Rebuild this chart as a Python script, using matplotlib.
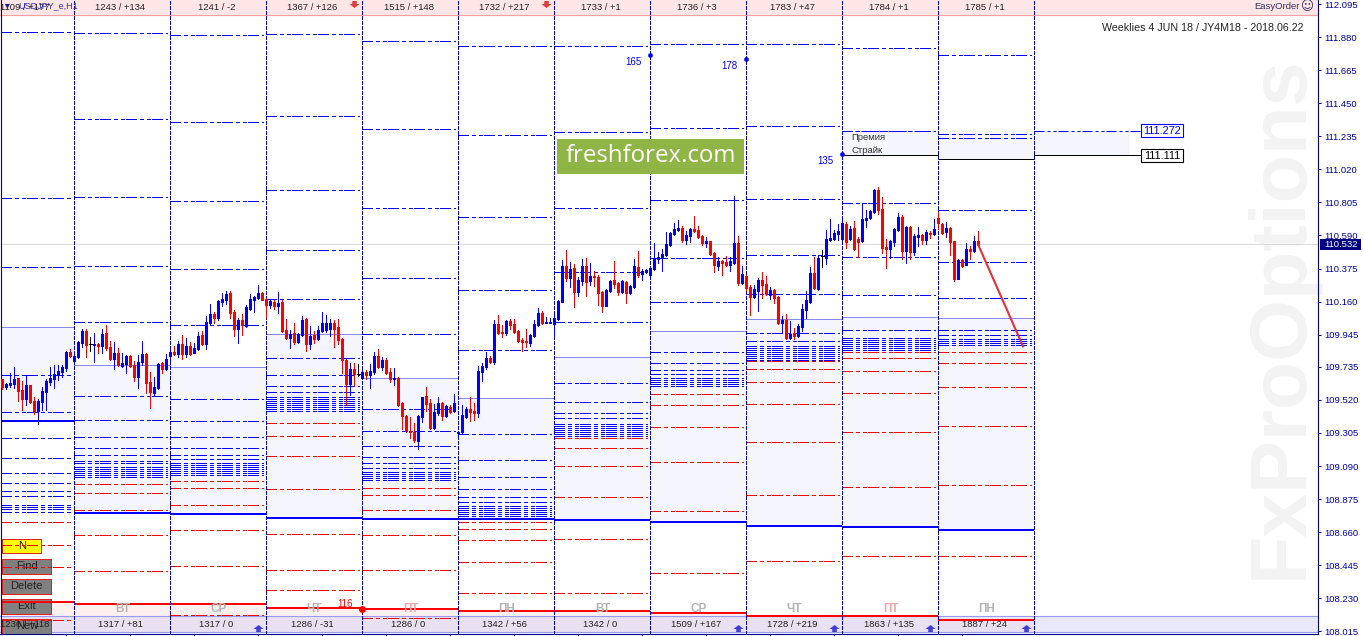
import matplotlib
matplotlib.use("Agg")
import matplotlib.pyplot as plt
from matplotlib.patches import Rectangle

W, H = 1363, 636
plt.rcParams["font.family"] = ["Liberation Sans", "DejaVu Sans"]
plt.rcParams["lines.scale_dashes"] = False

# H1 candles, bar by bar
c_high = [
    109.657, 109.630, 109.696, 109.735, 109.663, 109.644, 109.683, 109.618, 109.540, 109.527,
    109.605, 109.657, 109.735, 109.748, 109.748, 109.748, 109.839, 109.852, 109.813, 109.904,
    109.982, 109.982, 109.930, 109.956, 109.891, 109.982, 110.008, 109.904, 109.897, 109.858,
    109.826, 109.813, 109.813, 109.774, 109.813, 109.904, 109.826, 109.702, 109.670, 109.761,
    109.767, 109.819, 109.858, 109.871, 109.904, 109.943, 109.923, 109.897, 109.891, 109.962,
    109.969, 110.066, 110.144, 110.092, 110.170, 110.216, 110.229, 110.229, 110.105, 110.053,
    110.079, 110.138, 110.209, 110.196, 110.268, 110.222, 110.183, 110.177, 110.170, 110.222,
    110.170, 110.047, 109.975, 110.021, 109.956, 110.066, 110.053, 110.001, 109.969, 110.001,
    110.092, 110.073, 110.047, 110.040, 110.047, 109.923, 109.787, 109.761, 109.761, 109.754,
    109.715, 109.715, 109.754, 109.832, 109.852, 109.800, 109.793, 109.728, 109.728, 109.670,
    109.507, 109.423, 109.410, 109.371, 109.423, 109.540, 109.605, 109.527, 109.494, 109.540,
    109.507, 109.488, 109.488, 109.559, 109.319, 109.488, 109.475, 109.540, 109.501, 109.741,
    109.761, 109.832, 109.806, 110.040, 110.073, 110.008, 110.040, 110.047, 110.047, 109.975,
    109.923, 109.982, 109.949, 110.040, 110.118, 110.099, 110.060, 110.053, 110.073, 110.170,
    110.430, 110.495, 110.417, 110.404, 110.320, 110.437, 110.443, 110.411, 110.359, 110.333,
    110.229, 110.242, 110.300, 110.424, 110.287, 110.300, 110.294, 110.268, 110.437, 110.489,
    110.372, 110.372, 110.391, 110.540, 110.482, 110.502, 110.612, 110.612, 110.670, 110.690,
    110.651, 110.619, 110.638, 110.716, 110.651, 110.593, 110.580, 110.554, 110.482, 110.450,
    110.430, 110.456, 110.450, 110.846, 110.586, 110.391, 110.333, 110.268, 110.268, 110.313,
    110.352, 110.326, 110.255, 110.242, 110.196, 110.066, 110.079, 110.034, 109.988, 110.014,
    110.144, 110.229, 110.385, 110.450, 110.463, 110.495, 110.625, 110.697, 110.625, 110.664,
    110.690, 110.677, 110.651, 110.684, 110.580, 110.800, 110.755, 110.755, 110.891, 110.904,
    110.840, 110.567, 110.560, 110.638, 110.736, 110.723, 110.651, 110.651, 110.599, 110.645,
    110.599, 110.625, 110.619, 110.697, 110.742, 110.670, 110.677, 110.645, 110.554, 110.437,
    110.437, 110.540, 110.521, 110.586, 110.619,
]
c_low = [
    109.592, 109.592, 109.605, 109.598, 109.514, 109.455, 109.488, 109.501, 109.429, 109.364,
    109.455, 109.455, 109.618, 109.598, 109.650, 109.670, 109.709, 109.800, 109.767, 109.793,
    109.865, 109.800, 109.839, 109.767, 109.826, 109.826, 109.845, 109.780, 109.722, 109.741,
    109.735, 109.696, 109.735, 109.644, 109.598, 109.748, 109.566, 109.468, 109.546, 109.592,
    109.696, 109.715, 109.774, 109.813, 109.800, 109.787, 109.800, 109.813, 109.826, 109.845,
    109.878, 109.852, 110.008, 110.021, 110.040, 110.131, 110.144, 110.053, 109.936, 109.891,
    109.943, 109.995, 110.105, 110.092, 110.177, 110.170, 110.053, 110.118, 110.112, 110.086,
    109.962, 109.917, 109.858, 109.884, 109.891, 109.936, 109.839, 109.852, 109.891, 109.910,
    109.962, 109.962, 109.936, 109.865, 109.884, 109.696, 109.488, 109.553, 109.611, 109.676,
    109.657, 109.657, 109.598, 109.689, 109.728, 109.715, 109.689, 109.637, 109.618, 109.481,
    109.332, 109.312, 109.273, 109.247, 109.202, 109.377, 109.449, 109.332, 109.332, 109.423,
    109.390, 109.410, 109.436, 109.442, 109.293, 109.306, 109.403, 109.384, 109.390, 109.410,
    109.644, 109.722, 109.761, 109.754, 109.949, 109.930, 109.943, 109.982, 109.956, 109.897,
    109.839, 109.865, 109.871, 109.930, 110.001, 110.014, 110.021, 110.021, 109.923, 110.040,
    110.157, 110.294, 110.255, 110.124, 110.196, 110.268, 110.196, 110.268, 110.261, 110.138,
    110.092, 110.131, 110.222, 110.248, 110.203, 110.216, 110.150, 110.209, 110.248, 110.320,
    110.300, 110.346, 110.326, 110.365, 110.411, 110.359, 110.456, 110.521, 110.593, 110.619,
    110.547, 110.534, 110.547, 110.612, 110.573, 110.528, 110.515, 110.463, 110.352, 110.365,
    110.333, 110.391, 110.359, 110.404, 110.268, 110.274, 110.235, 110.073, 110.183, 110.099,
    110.183, 110.203, 110.177, 110.150, 110.014, 109.962, 109.917, 109.917, 109.917, 109.930,
    109.969, 110.053, 110.150, 110.242, 110.235, 110.385, 110.404, 110.554, 110.560, 110.560,
    110.560, 110.508, 110.560, 110.495, 110.450, 110.547, 110.645, 110.697, 110.736, 110.729,
    110.475, 110.378, 110.443, 110.521, 110.619, 110.437, 110.411, 110.437, 110.463, 110.521,
    110.534, 110.534, 110.573, 110.593, 110.632, 110.599, 110.580, 110.463, 110.294, 110.307,
    110.385, 110.398, 110.437, 110.482, 110.521,
]
c_open = [
    109.657, 109.605, 109.618, 109.624, 109.663, 109.585, 109.527, 109.618, 109.514, 109.449,
    109.507, 109.572, 109.637, 109.657, 109.683, 109.702, 109.728, 109.832, 109.774, 109.800,
    109.891, 109.969, 109.884, 109.878, 109.884, 109.871, 109.956, 109.865, 109.787, 109.826,
    109.741, 109.754, 109.806, 109.748, 109.670, 109.767, 109.819, 109.637, 109.566, 109.598,
    109.761, 109.722, 109.806, 109.832, 109.819, 109.884, 109.819, 109.871, 109.826, 109.852,
    109.943, 109.884, 110.021, 110.079, 110.053, 110.157, 110.170, 110.216, 110.092, 109.982,
    110.040, 110.001, 110.112, 110.170, 110.183, 110.216, 110.177, 110.138, 110.157, 110.131,
    110.157, 109.975, 109.923, 109.956, 109.897, 109.943, 110.047, 109.884, 109.943, 109.917,
    109.969, 109.975, 109.982, 110.021, 109.995, 109.917, 109.780, 109.624, 109.722, 109.689,
    109.663, 109.702, 109.683, 109.702, 109.806, 109.735, 109.780, 109.702, 109.657, 109.663,
    109.501, 109.416, 109.319, 109.312, 109.254, 109.410, 109.546, 109.501, 109.338, 109.436,
    109.501, 109.416, 109.475, 109.449, 109.306, 109.312, 109.410, 109.462, 109.449, 109.436,
    109.702, 109.735, 109.793, 109.767, 110.014, 109.962, 109.956, 110.034, 110.014, 109.969,
    109.910, 109.904, 109.891, 109.936, 110.008, 110.086, 110.021, 110.021, 110.014, 110.047,
    110.157, 110.391, 110.313, 110.378, 110.222, 110.294, 110.391, 110.294, 110.326, 110.320,
    110.222, 110.131, 110.229, 110.300, 110.281, 110.222, 110.287, 110.216, 110.255, 110.385,
    110.339, 110.352, 110.333, 110.372, 110.437, 110.443, 110.463, 110.528, 110.599, 110.625,
    110.638, 110.560, 110.586, 110.632, 110.625, 110.586, 110.540, 110.554, 110.476, 110.391,
    110.424, 110.417, 110.398, 110.411, 110.540, 110.281, 110.326, 110.255, 110.190, 110.229,
    110.300, 110.274, 110.203, 110.235, 110.190, 110.021, 110.040, 109.923, 109.956, 109.936,
    109.995, 110.105, 110.157, 110.346, 110.242, 110.456, 110.443, 110.560, 110.567, 110.599,
    110.567, 110.664, 110.567, 110.638, 110.567, 110.554, 110.690, 110.703, 110.742, 110.885,
    110.762, 110.515, 110.502, 110.547, 110.625, 110.710, 110.489, 110.645, 110.482, 110.580,
    110.593, 110.560, 110.606, 110.599, 110.703, 110.664, 110.612, 110.638, 110.554, 110.307,
    110.430, 110.398, 110.502, 110.489, 110.554,
]
c_close = [
    109.605, 109.624, 109.630, 109.657, 109.579, 109.527, 109.618, 109.507, 109.449, 109.514,
    109.579, 109.644, 109.663, 109.689, 109.709, 109.735, 109.832, 109.806, 109.806, 109.897,
    109.969, 109.878, 109.884, 109.884, 109.871, 109.949, 109.858, 109.787, 109.826, 109.748,
    109.761, 109.806, 109.741, 109.670, 109.767, 109.819, 109.630, 109.572, 109.605, 109.754,
    109.722, 109.787, 109.832, 109.819, 109.884, 109.819, 109.871, 109.819, 109.858, 109.936,
    109.884, 110.027, 110.079, 110.053, 110.164, 110.177, 110.209, 110.086, 109.982, 110.040,
    110.008, 110.124, 110.177, 110.190, 110.216, 110.170, 110.138, 110.164, 110.131, 110.150,
    109.969, 109.923, 109.949, 109.897, 109.949, 110.040, 109.884, 109.936, 109.917, 109.975,
    110.021, 110.021, 110.021, 109.982, 109.910, 109.780, 109.624, 109.722, 109.689, 109.689,
    109.702, 109.683, 109.709, 109.806, 109.735, 109.780, 109.696, 109.657, 109.663, 109.488,
    109.416, 109.319, 109.312, 109.260, 109.416, 109.540, 109.494, 109.338, 109.442, 109.501,
    109.416, 109.481, 109.442, 109.501, 109.312, 109.423, 109.462, 109.442, 109.436, 109.709,
    109.741, 109.793, 109.767, 110.014, 109.956, 109.956, 110.034, 110.008, 109.962, 109.904,
    109.897, 109.897, 109.943, 110.014, 110.086, 110.021, 110.027, 110.027, 110.053, 110.164,
    110.391, 110.313, 110.372, 110.222, 110.300, 110.391, 110.287, 110.326, 110.320, 110.216,
    110.131, 110.235, 110.294, 110.274, 110.222, 110.294, 110.216, 110.261, 110.391, 110.333,
    110.359, 110.365, 110.378, 110.443, 110.450, 110.469, 110.534, 110.606, 110.632, 110.638,
    110.560, 110.593, 110.632, 110.619, 110.580, 110.540, 110.554, 110.469, 110.398, 110.424,
    110.411, 110.398, 110.424, 110.540, 110.281, 110.339, 110.248, 110.190, 110.242, 110.300,
    110.268, 110.209, 110.235, 110.183, 110.021, 110.040, 109.923, 109.949, 109.936, 110.001,
    110.112, 110.170, 110.346, 110.248, 110.443, 110.456, 110.567, 110.573, 110.606, 110.619,
    110.670, 110.547, 110.632, 110.502, 110.547, 110.697, 110.703, 110.749, 110.885, 110.755,
    110.508, 110.502, 110.554, 110.632, 110.710, 110.489, 110.645, 110.482, 110.586, 110.593,
    110.560, 110.612, 110.599, 110.632, 110.670, 110.606, 110.638, 110.547, 110.307, 110.430,
    110.391, 110.502, 110.489, 110.554, 110.528,
]

# day separators, in bars
day_edges = [-0.25, 18, 42, 66, 90, 114, 138, 162, 186, 210, 234, 258]
top_labels = ["1109 / +177", "1243 / +134", "1241 / -2", "1367 / +126", "1515 / +148", "1732 / +217",
              "1733 / +1", "1736 / +3", "1783 / +47", "1784 / +1", "1785 / +1"]
bottom_labels = ["1236 / +118", "1317 / +81", "1317 / 0", "1286 / -31", "1286 / 0", "1342 / +56",
                 "1342 / 0", "1509 / +167", "1728 / +219", "1863 / +135", "1887 / +24"]
weekdays = ["", "ВТ", "СР", "ЧТ", "ПТ", "ПН", "ВТ", "СР", "ЧТ", "ПТ", "ПН"]

# option strike levels per day
blue_levels = [
    [111.912, 110.832, 110.383, 109.680, 109.440, 109.270, 109.140, 109.043, 108.978, 108.926, 108.893,
     108.834, 108.821, 108.808, 108.791],
    [111.905, 111.346, 110.838, 110.390, 110.025, 109.544, 109.388, 109.277, 109.205, 109.160, 109.121,
     109.108, 109.082, 109.069, 109.056, 109.043, 109.030, 109.017],
    [111.892, 111.326, 110.812, 110.370, 110.006, 109.524, 109.381, 109.277, 109.205, 109.160, 109.134,
     109.108, 109.095, 109.082, 109.069, 109.056, 109.043, 109.030],
    [111.899, 111.365, 110.884, 110.494, 110.175, 109.791, 109.680, 109.609, 109.570, 109.537, 109.524,
     109.511, 109.498, 109.485, 109.472, 109.459, 109.446],
    [111.853, 111.281, 110.767, 110.311, 109.947, 109.459, 109.316, 109.218, 109.147, 109.108, 109.075,
     109.049, 109.036, 109.023, 109.010, 108.997],
    [111.821, 111.242, 110.708, 110.233, 109.843, 109.296, 109.127, 109.017, 108.939, 108.887, 108.854,
     108.828, 108.815, 108.802, 108.789, 108.776, 108.763],
    [111.821, 111.261, 110.767, 110.350, 110.025, 109.628, 109.505, 109.433, 109.400, 109.361, 109.348,
     109.335, 109.322, 109.309, 109.296, 109.283],
    [111.834, 111.287, 110.819, 110.441, 110.155, 109.830, 109.758, 109.713, 109.687, 109.661, 109.648,
     109.635, 109.622, 109.609],
    [111.834, 111.300, 110.825, 110.461, 110.207, 109.954, 109.902, 109.869, 109.856, 109.843, 109.830,
     109.817, 109.804, 109.791, 109.778],
    [111.808, 111.268, 110.799, 110.448, 110.201, 109.973, 109.921, 109.908, 109.895, 109.882, 109.869,
     109.856, 109.843],
    [111.762, 111.248, 111.222, 110.754, 110.415, 110.181, 109.973, 109.940, 109.914, 109.901, 109.888,
     109.875],
]
red_levels = [
    [108.724, 108.574, 108.431, 108.086],
    [108.971, 108.913, 108.802, 108.639, 108.405],
    [108.991, 108.945, 108.834, 108.672, 108.438, 108.119],
    [109.368, 109.284, 109.153, 108.939, 108.646, 108.412, 108.281],
    [108.945, 108.900, 108.802, 108.639, 108.412, 108.099],
    [108.724, 108.678, 108.607, 108.464, 108.262],
    [109.270, 109.205, 109.088, 108.887, 108.613, 108.262],
    [109.557, 109.485, 109.342, 109.114, 108.795, 108.392],
    [109.771, 109.719, 109.635, 109.492, 109.244, 108.900, 108.470],
    [109.830, 109.791, 109.706, 109.563, 109.309, 108.952, 108.503],
    [109.830, 109.758, 109.602, 109.348, 108.964, 108.503],
]
range_top = [109.993, 109.745, 109.732, 109.947, 109.661, 109.531, 109.797, 109.967, 110.045, 110.058, 110.051]
put_wall = [109.385, 108.786, 108.780, 108.754, 108.747, 108.745, 108.739, 108.728, 108.700, 108.693, 108.674]
call_wall = [108.205, 108.194, 108.192, 108.166, 108.160, 108.147, 108.147, 108.134, 108.112, 108.112, 108.090]

premium_price = 111.272
strike_price = 111.111
premium_days = [111.268, 111.248]
strike_days = [111.112, 111.086]
last_price = 110.532

forecast_x = [244, 255.2]
forecast_y = [110.528, 109.868]

signal_x = [162, 186, 210]
signal_y = [111.764, 111.738, 111.120]
signal_text = ["165", "178", "135"]
red_signal_x = [90]
red_signal_y = [108.160]
sell_x = [88, 136]
sell_y = [112.099, 112.099]
buy_x = [64, 184, 208, 232, 256]
buy_y = [108.038, 108.038, 108.038, 108.038, 108.038]

tick_prices = [112.095, 111.880, 111.665, 111.450, 111.235, 111.020, 110.805, 110.590, 110.375, 110.160,
               109.945, 109.735, 109.520, 109.305, 109.090, 108.875, 108.660, 108.445, 108.230, 108.015]
time_ticks = [16, 32, 48, 64, 80, 96, 112, 128, 144, 160, 176, 192, 208, 224, 240]

BLUE = "#0000ff"
RED = "#ff0000"
NAVY = "#0000a0"
DASH = (0, (7.2, 2.16, 2.16, 2.16, 2.16, 1.44))
LW = 0.72


def fx(x):
    return x / W


def fy(y):
    return 1 - y / H


fig = plt.figure(figsize=(W / 100, H / 100), dpi=100)
ax = fig.add_axes([0, 2 / H, 1318.3 / W, 634 / H])
ax.set_xlim(-0.575, 329.0)
ax.set_ylim(107.997, 112.122)

for s in ["left", "top"]:
    ax.spines[s].set_visible(False)
ax.spines["right"].set_color("#000080")
ax.spines["bottom"].set_color("#000080")
ax.spines["right"].set_linewidth(0.8)
ax.spines["bottom"].set_linewidth(0.8)

ax.yaxis.tick_right()
ax.set_yticks(tick_prices)
ax.set_yticklabels([f"{p:.3f}" for p in tick_prices])
ax.tick_params(axis="y", length=2, width=0.72, color=NAVY, labelcolor=NAVY, labelsize=6.8, pad=2.2)
ax.set_xticks(time_ticks)
ax.set_xticklabels([])
ax.tick_params(axis="x", length=1.5, width=0.72, color="#000080")

# watermark and logo
ax.text(fx(1302), fy(579), "FxProOptions", transform=fig.transFigure, rotation=90, ha="left", va="baseline",
        rotation_mode="anchor", fontsize=57, fontweight="bold", color="#f3f3f3", zorder=0.5)
ax.add_patch(Rectangle((fx(557), fy(174)), fx(187), 35 / H, transform=fig.transFigure, color="#8fb546",
                       lw=0, zorder=3))
ax.text(fx(651), fy(156.5), "freshforex.com", transform=fig.transFigure, ha="center", va="center",
        fontsize=17.3, color="white", family="Open Sans", zorder=3.1)

# top and bottom strips
ax.axhspan(112.022, 112.122, color="#ffe6e6", lw=0, zorder=1)
ax.axhline(112.022, color="#f5a0a0", lw=0.8, zorder=1.1)

# daily shaded ranges
for i in range(11):
    x0, x1 = day_edges[i], day_edges[i + 1]
    ax.fill_between([x0, x1], range_top[i], put_wall[i], color="#f4f5fd", lw=0, zorder=1)
    ax.fill_between([x0, x1], call_wall[i], 108.010, color="#fff0f0", lw=0, zorder=1)
    ax.plot([x0, x1], [range_top[i], range_top[i]], color="#8888ee", lw=LW, zorder=1.2)

ax.fill_between([210, 234], premium_days[0], strike_days[0], color="#f4f5fd", lw=0, zorder=1)
ax.fill_between([234, 258], premium_days[1], strike_days[1], color="#f4f5fd", lw=0, zorder=1)
ax.fill_between([258, 281.9], premium_price, strike_price, color="#f4f5fd", lw=0, zorder=1)

ax.axhspan(108.010, 108.114, color="#c8c8f5", alpha=0.4, lw=0, zorder=1.3)
ax.axhline(108.114, color="#9a9af0", lw=0.8, zorder=1.4)
ax.axhline(108.010, color="#9a9af0", lw=0.8, zorder=1.4)

# control buttons
buttons = [("N", 2.3, 539, 39, 14.3, "#ffff00"), ("Find", 2.3, 559, 49, 14.7, "#808080"),
           ("Delete", 2.3, 579, 49, 14.7, "#808080"), ("Exit", 2.3, 599, 49, 14.7, "#808080"),
           ("New", 2.3, 619, 49, 14.7, "#808080")]
for name, bx, by, bw, bh, col in buttons:
    ax.add_patch(Rectangle((fx(bx), fy(by + bh)), fx(bw), bh / H, transform=fig.transFigure, facecolor=col,
                           edgecolor="#e02020", lw=0.72, zorder=1.5))
    ax.text(fx(bx + bw / 2), fy(by + bh / 2), name, transform=fig.transFigure, ha="center", va="center",
            fontsize=8, color="#222222", zorder=1.6)

ax.axhline(last_price, color="#d8d8d8", lw=LW, zorder=1.7)

# levels
for i in range(11):
    x0, x1 = day_edges[i], day_edges[i + 1] - 0.75
    blue = ax.hlines(blue_levels[i], x0, x1, colors=BLUE, linestyles=[DASH], lw=LW, antialiased=False, zorder=2)
    red = ax.hlines(red_levels[i], x0, x1, colors=RED, linestyles=[DASH], lw=LW, antialiased=False, zorder=2)
    blue.set_snap(True)
    red.set_snap(True)
    ax.plot([day_edges[i], day_edges[i + 1]], [put_wall[i], put_wall[i]], color=BLUE, lw=1.44,
            solid_capstyle="butt", zorder=2.1)
    ax.plot([day_edges[i], day_edges[i + 1]], [call_wall[i], call_wall[i]], color=RED, lw=1.44,
            solid_capstyle="butt", zorder=2.1)

ax.plot([210, 234], [strike_days[0], strike_days[0]], color="black", lw=LW, zorder=2)
ax.plot([234, 258], [strike_days[1], strike_days[1]], color="black", lw=LW, zorder=2)
ax.plot([258, 284.6], [strike_price, strike_price], color="black", lw=LW, zorder=2)
ax.hlines([premium_days[0]], 210, 233.25, colors=BLUE, linestyles=[DASH], lw=LW, zorder=2)
ax.hlines([premium_price], 258, 284.6, colors=BLUE, linestyles=[DASH], lw=LW, zorder=2)

# day separators
seps = ax.vlines(day_edges[1:], 107.997, 112.122, colors="#0000c8", linestyles=[(0, (2.2, 1.44))], lw=LW,
                 antialiased=False, zorder=2.5)
seps.set_snap(True)
ax.axvline(day_edges[0], color="#000080", lw=0.8, zorder=2.5)

# candles
bars = range(len(c_open))
colors = []
for o, c in zip(c_open, c_close):
    if c > o:
        colors.append(BLUE)
    elif c < o:
        colors.append(RED)
    else:
        colors.append("black")
ax.vlines(bars, c_low, c_high, colors=colors, lw=LW, antialiased=False, zorder=3.5)
ax.vlines(bars, c_open, c_close, colors=colors, lw=2.16, antialiased=False, zorder=3.6)
for i, (o, c) in enumerate(zip(c_open, c_close)):
    if o == c:
        ax.plot([i - 0.35, i + 0.35], [o, o], color="black", lw=LW, zorder=3.6)

ax.plot(forecast_x, forecast_y, color="#e8303a", lw=1.5, zorder=4)

# signals and arrows
ax.plot(signal_x, signal_y, "o", color=BLUE, ms=3.4, mew=0, zorder=4)
ax.plot(red_signal_x, red_signal_y, "o", color=RED, ms=5, mew=0, zorder=4)
up_arrow = [(-1, -0.1), (0, 0.7), (1, -0.1), (0.45, -0.1), (0.45, -0.7), (-0.45, -0.7), (-0.45, -0.1)]
down_arrow = [(x, -y) for x, y in up_arrow]
ax.plot(buy_x, buy_y, ls="", marker=up_arrow, color="#4040d8", ms=7.2, mew=0, zorder=4)
ax.plot(sell_x, sell_y, ls="", marker=down_arrow, color="#d84040", ms=7.2, mew=0, zorder=4)

# texts
for i in range(11):
    cx = (day_edges[i + 1] * 4 + 2.5) - 50
    ax.text(fx(cx), fy(7.8), top_labels[i], transform=fig.transFigure, ha="center", va="center",
            fontsize=6.8, color="#222222", zorder=5)
    ax.text(fx(cx), fy(624.5), bottom_labels[i], transform=fig.transFigure, ha="center", va="center",
            fontsize=6.8, color="#222222", zorder=5)
    if weekdays[i]:
        col = "#f5a5a5" if weekdays[i] == "ПТ" else "#b4b4b4"
        ax.text(fx(cx + 2), fy(609), weekdays[i], transform=fig.transFigure, ha="center", va="center",
                fontsize=8.5, fontweight="bold", color=col, zorder=5)

ax.text(fx(5), fy(5.5), "▾", transform=fig.transFigure, ha="left", va="center", fontsize=7, color="#202080",
        family="DejaVu Sans", zorder=5)
ax.text(fx(18), fy(6), "USDJPY_e,H1", transform=fig.transFigure, ha="left", va="center", fontsize=6.5,
        color="#3030a0", zorder=5)
ax.text(fx(1303), fy(28), "Weeklies 4 JUN 18 / JY4M18 - 2018.06.22", transform=fig.transFigure, ha="right",
        va="center", fontsize=7.65, color="#222222", zorder=5)
ax.text(fx(1300), fy(6.5), "EasyOrder", transform=fig.transFigure, ha="right", va="center", fontsize=6.8,
        color="#303060", zorder=5)
ax.text(fx(1307.5), fy(7), "☺", transform=fig.transFigure, ha="center", va="center", fontsize=9,
        color="#303060", family="DejaVu Sans", zorder=5)
ax.text(fx(851), fy(137), "Премия", transform=fig.transFigure, ha="left", va="center", fontsize=6.8,
        color="#333333", zorder=5)
ax.text(fx(851), fy(150), "Страйк", transform=fig.transFigure, ha="left", va="center", fontsize=6.8,
        color="#333333", zorder=5)

signal_pos = [(633.7, 61.7), (729.3, 65.7), (825.7, 160.7)]
for label, (sx, sy) in zip(signal_text, signal_pos):
    ax.text(fx(sx), fy(sy), label, transform=fig.transFigure, ha="center", va="center", fontsize=7,
            color=BLUE, zorder=5)
ax.text(fx(345.3), fy(603.7), "116", transform=fig.transFigure, ha="center", va="center", fontsize=7,
        color=RED, zorder=5)

# price boxes
for label, top, col in [(f"{premium_price:.3f}", 124.2, BLUE), (f"{strike_price:.3f}", 149.5, "black")]:
    ax.text(fx(1162), fy(top + 6.3), label, transform=fig.transFigure, ha="center", va="center", fontsize=7.9,
            color=col, zorder=5.1)
    ax.add_patch(Rectangle((fx(1141.3), fy(top + 12.4)), fx(41.4), 12.4 / H, transform=fig.transFigure,
                           facecolor="white", edgecolor=col, lw=0.8, zorder=5, clip_on=False))

fig.add_artist(Rectangle((fx(1320.3), fy(249.7)), fx(40.7), 10.4 / H, transform=fig.transFigure,
                         color="#000080", lw=0, zorder=6))
fig.text(fx(1324), fy(244.6), f"{last_price:.3f}", ha="left", va="center", fontsize=6.8, color="white", zorder=7)

fig.savefig("out.png", dpi=100)
